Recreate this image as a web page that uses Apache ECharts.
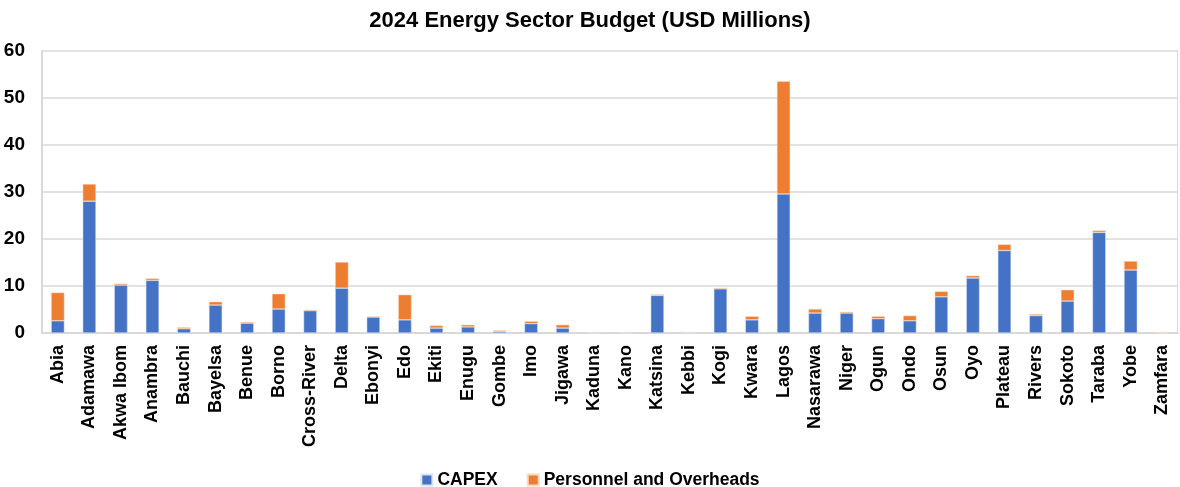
<!DOCTYPE html>
<html>
<head>
<meta charset="utf-8">
<script src="https://cdn.jsdelivr.net/npm/echarts@6/dist/echarts.min.js"></script>
<style>
  html, body { margin: 0; padding: 0; background: #fff; }
  #chart { width: 1180px; height: 487px; }
</style>
</head>
<body>
<div id="chart"></div>
<script>
const states = ['Abia', 'Adamawa', 'Akwa Ibom', 'Anambra', 'Bauchi', 'Bayelsa', 'Benue', 'Borno',
  'Cross-River', 'Delta', 'Ebonyi', 'Edo', 'Ekiti', 'Enugu', 'Gombe', 'Imo', 'Jigawa', 'Kaduna',
  'Kano', 'Katsina', 'Kebbi', 'Kogi', 'Kwara', 'Lagos', 'Nasarawa', 'Niger', 'Ogun', 'Ondo',
  'Osun', 'Oyo', 'Plateau', 'Rivers', 'Sokoto', 'Taraba', 'Yobe', 'Zamfara'];

const capex = [2.6, 28.05, 10.2, 11.2, 0.9, 5.95, 2.1, 5.1,
  4.75, 9.55, 3.4, 2.8, 1.05, 1.3, 0.35, 2.0, 1.05, 0,
  0, 8.0, 0, 9.4, 2.8, 29.6, 4.25, 4.25, 3.05, 2.6,
  7.7, 11.7, 17.55, 3.7, 6.8, 21.4, 13.4, 0];

const personnel = [6.0, 3.65, 0.3, 0.4, 0.3, 0.7, 0.25, 3.25,
  0.2, 5.55, 0.15, 5.35, 0.55, 0.45, 0.2, 0.5, 0.7, 0,
  0, 0.2, 0.1, 0.2, 0.75, 23.95, 0.85, 0.25, 0.5, 1.1,
  1.15, 0.5, 1.3, 0.3, 2.4, 0.4, 1.9, 0];

const yTicks = [0, 10, 20, 30, 40, 50, 60];

const font = '"Liberation Sans", Arial, sans-serif';
const chart = echarts.init(document.getElementById('chart'));

chart.setOption({
  animation: false,
  color: ['#4472C4', '#ED7D31'],
  title: {
    text: '2024 Energy Sector Budget (USD Millions)',
    left: 'center',
    top: 5,
    textStyle: { fontFamily: font, fontSize: 22, fontWeight: 'bold', color: '#000' }
  },
  legend: {
    top: 466,
    left: 'center',
    itemWidth: 11,
    itemHeight: 11,
    itemGap: 29,
    icon: 'rect',
    textStyle: { fontFamily: font, fontSize: 17.5, fontWeight: 'bold', color: '#000' },
    data: ['CAPEX', 'Personnel and Overheads']
  },
  grid: { left: 42, right: 2, top: 51, bottom: 154 },
  xAxis: {
    type: 'category',
    data: states,
    axisLine: { lineStyle: { color: '#d9d9d9', width: 2 } },
    axisTick: { show: false },
    axisLabel: {
      rotate: 90,
      interval: 0,
      margin: 12,
      fontFamily: font,
      fontSize: 18,
      fontWeight: 'bold',
      color: '#000'
    }
  },
  yAxis: {
    type: 'value',
    min: yTicks[0],
    max: yTicks[yTicks.length - 1],
    interval: 10,
    axisLine: { show: true, lineStyle: { color: '#d9d9d9', width: 2 } },
    axisTick: { show: false },
    splitLine: { lineStyle: { color: '#d9d9d9', width: 1.5 } },
    axisLabel: {
      margin: 17,
      fontFamily: font,
      fontSize: 19,
      fontWeight: 'bold',
      color: '#000'
    }
  },
  series: [
    {
      name: 'CAPEX',
      type: 'bar',
      stack: 'total',
      barWidth: '42%',
      itemStyle: { borderColor: '#dbe4f5', borderWidth: 0.5 },
      data: capex
    },
    {
      name: 'Personnel and Overheads',
      type: 'bar',
      stack: 'total',
      barWidth: '42%',
      itemStyle: { borderColor: '#f9d9c2', borderWidth: 0.5 },
      data: personnel
    }
  ],
  graphic: [{
    type: 'rect',
    shape: { x: 1177, y: 51, width: 1, height: 282 },
    style: { fill: '#d9d9d9' }
  }]
});

window.addEventListener('resize', () => chart.resize());
</script>
</body>
</html>
